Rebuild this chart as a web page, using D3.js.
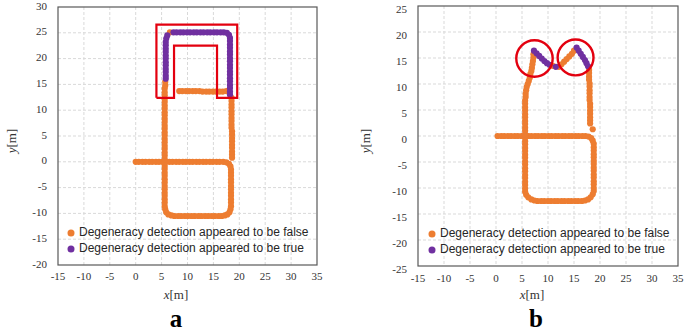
<!DOCTYPE html>
<html>
<head>
<meta charset="utf-8">
<script src="https://cdn.jsdelivr.net/npm/d3@7"></script>
<style>
  body { margin: 0; background: #fff; }
  svg { display: block; }
</style>
</head>
<body>
<svg id="chart" width="685" height="332"></svg>
<script>
// tick values
var xTicks = [-15, -10, -5, 0, 5, 10, 15, 20, 25, 30, 35]
var aYTicks = [-20, -15, -10, -5, 0, 5, 10, 15, 20, 25, 30]
var bYTicks = [-25, -20, -15, -10, -5, 0, 5, 10, 15, 20, 25]
var legendLabels = ["Degeneracy detection appeared to be false", "Degeneracy detection appeared to be true"]

// panel a, trajectory points
var aFalse = [
  [0,0],[0.6,0],[1.3,0],[1.9,0],[2.6,0],[3.2,0],[3.9,0],[4.5,0],[5.2,0],[5.8,0],[6.5,0],[7.1,0],[7.8,0],[8.4,0],
  [9.1,0],[9.7,0],[10.4,0],[11,0],[11.7,0],[12.3,0],[13,0],[13.6,0],[14.3,0],[14.9,0],[15.6,0],[16.2,0],[16.9,0],
  [17.5,-0.1],[18,-0.4],[18.3,-0.9],[18.4,-1.5],
  [18.4,-2.1],[18.4,-2.7],[18.4,-3.4],[18.4,-4],[18.4,-4.7],[18.4,-5.3],[18.4,-6],[18.4,-6.6],[18.4,-7.3],
  [18.4,-7.9],[18.4,-8.6],[18.3,-9.2],[18.1,-9.8],[17.7,-10.2],[17.2,-10.4],
  [16.6,-10.5],[16,-10.5],[15.3,-10.5],[14.7,-10.5],[14,-10.5],[13.4,-10.5],[12.7,-10.5],[12.1,-10.5],[11.4,-10.5],
  [10.8,-10.5],[10.1,-10.5],[9.5,-10.5],[8.8,-10.5],[8.2,-10.5],[7.5,-10.5],[6.9,-10.4],[6.3,-10.2],[5.9,-9.8],[5.7,-9.2],
  [5.6,-8.6],[5.6,-7.9],[5.6,-7.3],[5.6,-6.6],[5.6,-6],[5.6,-5.3],[5.6,-4.7],[5.6,-4],[5.6,-3.4],[5.6,-2.7],
  [5.6,-2.1],[5.6,-1.4],[5.6,-0.8],[5.6,-0.1],[5.6,0.5],[5.6,1.2],[5.6,1.8],[5.6,2.5],[5.6,3.1],[5.6,3.8],
  [5.6,4.4],[5.6,5.1],[5.6,5.7],[5.6,6.4],[5.6,7],[5.6,7.7],[5.6,8.3],[5.6,9],[5.6,9.6],[5.6,10.3],[5.6,10.9],
  [5.6,11.6],[5.6,12.2],[5.6,12.9],[5.6,13.5],[5.6,14.2],[5.7,14.8],[5.7,15.5],
  [6.6,25.1],
  [8.4,13.7],[9,13.7],[9.7,13.7],[10.3,13.7],[11,13.7],[11.6,13.7],[12.3,13.7],[12.9,13.6],[13.6,13.6],[14.2,13.6],
  [14.9,13.6],[15.5,13.6],[16.2,13.6],[16.8,13.6],[17.5,13.7],
  [18.5,12.4],[18.5,11.8],[18.5,11.1],[18.5,10.5],[18.5,9.8],[18.5,9.2],[18.5,8.5],[18.5,7.9],[18.5,7.2],[18.5,6.6],
  [18.6,5.9],[18.6,5.3],[18.6,4.6],[18.6,4],[18.6,3.3],[18.6,2.7],[18.6,2],[18.6,1.4],[18.6,0.8]
]
var aTrue = [
  [5.8,16.1],[5.8,16.7],[5.8,17.4],[5.8,18],[5.8,18.7],[5.8,19.3],[5.8,20],[5.8,20.6],[5.8,21.3],[5.8,21.9],
  [5.8,22.6],[5.8,23.2],[5.9,23.9],[6.1,24.5],
  [7.3,25.1],[7.9,25.1],[8.6,25.1],[9.2,25.1],[9.9,25.1],[10.5,25.1],[11.2,25.1],[11.8,25.1],[12.5,25.1],[13.1,25.1],
  [13.8,25.1],[14.4,25.1],[15.1,25.1],[15.7,25.1],[16.4,25.1],[17,25.1],[17.6,25],[18,24.6],
  [18.2,24],[18.2,23.4],[18.2,22.7],[18.2,22.1],[18.2,21.4],[18.2,20.8],[18.2,20.1],[18.2,19.5],[18.2,18.8],
  [18.2,18.2],[18.2,17.5],[18.2,16.9],[18.2,16.2],[18.2,15.6],[18.2,14.9],[18.2,14.3],[18.2,13.6],[18.2,13]
]
// red outline around the degenerate part (panel a)
var aBox = [[4,12.4],[4,26.6],[19.6,26.6],[19.6,12.4],[15.7,12.4],[15.7,22.5],[7.4,22.5],[7.4,12.4],[4,12.4]]

// panel b
var bFalse = [
  [0.3,0],[1,0],[1.6,0],[2.3,0],[2.9,0],[3.6,0],[4.2,0],[4.9,0],[5.5,0],[6.2,0],[6.8,0],[7.5,0],[8.1,0],[8.8,0],
  [9.4,0],[10.1,0],[10.7,0],[11.4,0],[12,0],[12.7,0],[13.3,0],[14,0],[14.6,0],[15.3,0],[15.9,0],[16.6,0],[17.2,0],
  [17.8,-0.1],[18.3,-0.4],[18.6,-0.9],
  [18.8,-1.5],[18.8,-2.2],[18.8,-2.8],[18.8,-3.5],[18.8,-4.1],[18.8,-4.8],[18.8,-5.4],[18.8,-6.1],[18.8,-6.7],
  [18.8,-7.4],[18.8,-8],[18.8,-8.7],[18.8,-9.3],[18.8,-10],[18.8,-10.6],[18.6,-11.2],[18.2,-11.8],[17.7,-12.2],[17.1,-12.4],
  [16.5,-12.5],[15.8,-12.5],[15.2,-12.5],[14.5,-12.5],[13.9,-12.5],[13.2,-12.5],[12.6,-12.5],[11.9,-12.5],[11.3,-12.5],
  [10.6,-12.5],[10,-12.5],[9.3,-12.5],[8.7,-12.5],[8,-12.5],[7.4,-12.4],[6.8,-12.2],[6.2,-11.8],[5.8,-11.3],[5.6,-10.7],
  [5.6,-10.1],[5.6,-9.4],[5.6,-8.8],[5.6,-8.1],[5.6,-7.5],[5.6,-6.8],[5.6,-6.2],[5.6,-5.5],[5.6,-4.9],[5.6,-4.2],
  [5.6,-3.6],[5.6,-2.9],[5.6,-2.3],[5.6,-1.6],[5.6,-1],[5.6,-0.3],[5.6,0.3],[5.6,1],[5.6,1.6],[5.6,2.3],[5.6,2.9],
  [5.6,3.6],[5.6,4.2],[5.6,4.9],[5.6,5.5],[5.6,6.2],[5.6,6.8],[5.7,7.5],[5.7,8.1],[5.8,8.8],[5.9,9.4],[6.1,10],
  [6.3,10.6],[6.5,11.2],[6.6,11.9],[6.8,12.5],[6.9,13.1],[7,13.8],[7.1,14.4],[7.2,15.1],[7.2,15.7],
  [10.9,13.5],[12.1,13.3],[12.6,13.8],[13.1,14.3],[13.6,14.8],[14.1,15.3],[14.6,15.8],[15,16.4],
  [17.9,12.7],[17.9,12.1],[17.9,11.4],[17.9,10.8],[18,10.1],[18,9.5],[18,8.8],[18,8.2],[18,7.5],[18,6.9],
  [18.1,6.2],[18.1,5.6],[18.1,4.9],[18.1,4.3],[18.1,3.6],[18.1,3],[18.1,2.4],[18.6,1.3]
]
var bTrue = [
  [7.3,16.4],[7.8,15.9],[8.3,15.4],[8.8,14.9],[9.3,14.4],[9.8,14],[10.3,13.7],[11.5,13.3],
  [15.5,17],[15.9,16.4],[16.3,15.8],[16.7,15.2],[17.1,14.6],[17.4,14],[17.7,13.4]
]
// red circles in panel b: cx, cy, r (data units)
var bCircles = [[7.4,14.9,3.5],[15.3,15.1,3.45]]

var orange = "#ED7D31"
var purple = "#7030A0"

function drawPanel(svg, p){
    var g = svg.append("g")
    var x = d3.scaleLinear().domain([-15, 35]).range([p.left, p.right])
    var y = d3.scaleLinear().domain(p.yDomain).range([p.bottom, p.top])

    // dashed grid
    g.selectAll(".gx").data(p.xTicks.slice(1, -1)).enter().append("line")
        .attr("x1", d => x(d)).attr("x2", d => x(d))
        .attr("y1", p.top).attr("y2", p.bottom)
        .attr("stroke", "#d9d9d9").attr("stroke-dasharray", "3,2")
    g.selectAll(".gy").data(p.yTicks.slice(1, -1)).enter().append("line")
        .attr("x1", p.left).attr("x2", p.right)
        .attr("y1", d => y(d)).attr("y2", d => y(d))
        .attr("stroke", "#d9d9d9").attr("stroke-dasharray", "3,2")

    g.append("rect")
        .attr("x", p.left).attr("y", p.top)
        .attr("width", p.right - p.left).attr("height", p.bottom - p.top)
        .attr("fill", "none").attr("stroke", "#595959").attr("stroke-width", 1.2)

    // tick labels
    g.selectAll(".tx").data(p.xTicks).enter().append("text")
        .attr("x", d => x(d)).attr("y", p.bottom + p.xLabOff)
        .attr("text-anchor", "middle").attr("dominant-baseline", "middle")
        .attr("font-family", "'Liberation Serif', serif").attr("font-size", "11px").attr("fill", "#333")
        .text(d => d)
    g.selectAll(".ty").data(p.yTicks).enter().append("text")
        .attr("x", p.left - 11).attr("y", d => y(d) + p.yLabOff)
        .attr("text-anchor", "end").attr("dominant-baseline", "middle")
        .attr("font-family", "'Liberation Serif', serif").attr("font-size", "11px").attr("fill", "#333")
        .text(d => d)

    // axis titles
    var xt = g.append("text").attr("x", p.xTitle[0]).attr("y", p.xTitle[1])
        .attr("text-anchor", "middle").attr("dominant-baseline", "middle")
        .attr("font-family", "'Liberation Serif', serif").attr("font-size", "13px").attr("fill", "#333")
    xt.append("tspan").attr("font-style", "italic").text("x")
    xt.append("tspan").text("[m]")
    var yt = g.append("text")
        .attr("transform", "translate(" + p.yTitle[0] + "," + p.yTitle[1] + ") rotate(-90)")
        .attr("text-anchor", "middle").attr("dominant-baseline", "middle")
        .attr("font-family", "'Liberation Serif', serif").attr("font-size", "13px").attr("fill", "#333")
    yt.append("tspan").attr("font-style", "italic").text("y")
    yt.append("tspan").text("[m]")

    // points
    g.selectAll(".pf").data(p.falsePts).enter().append("circle")
        .attr("cx", d => x(d[0])).attr("cy", d => y(d[1])).attr("r", 3.1)
        .attr("fill", orange)
    g.selectAll(".pt").data(p.truePts).enter().append("circle")
        .attr("cx", d => x(d[0])).attr("cy", d => y(d[1])).attr("r", 3.1)
        .attr("fill", purple)

    if (p.box){
        g.append("path")
            .attr("d", d3.line().x(d => x(d[0])).y(d => y(d[1]))(p.box))
            .attr("fill", "none").attr("stroke", "#E3000F").attr("stroke-width", 2.2)
    }
    if (p.circles){
        g.selectAll(".rc").data(p.circles).enter().append("circle")
            .attr("cx", d => x(d[0])).attr("cy", d => y(d[1]))
            .attr("r", d => x(d[2]) - x(0))
            .attr("fill", "none").attr("stroke", "#E3000F").attr("stroke-width", 2.4)
    }

    // legend
    var lg = g.selectAll(".lg").data(legendLabels).enter().append("g")
        .attr("transform", (d, i) => "translate(" + p.legend[0] + "," + (p.legend[1] + i * 16) + ")")
    lg.append("circle").attr("r", 3.5).attr("fill", (d, i) => i == 0 ? orange : purple)
    lg.append("text").attr("x", 8).attr("dominant-baseline", "middle")
        .attr("font-family", "'Liberation Sans', Arial, sans-serif").attr("font-size", "12px").attr("fill", "#262626")
        .text(d => d)

    g.append("text").attr("x", p.tag[0]).attr("y", p.tag[1])
        .attr("text-anchor", "middle")
        .attr("font-family", "'Liberation Serif', serif").attr("font-weight", "bold").attr("font-size", "25px")
        .text(p.tag[2])
}

window.onload = function(){
    var svg = d3.select("#chart")
    svg.append("rect").attr("width", 685).attr("height", 332).attr("fill", "#fff")

    drawPanel(svg, {
        left: 58, right: 317, top: 7, bottom: 265, yDomain: [-20, 30],
        xTicks: xTicks, yTicks: aYTicks, xLabOff: 12, yLabOff: 0,
        xTitle: [176, 296], yTitle: [13, 141],
        falsePts: aFalse, truePts: aTrue, box: aBox,
        legend: [71, 233], tag: [176, 327, "a"]
    })
    drawPanel(svg, {
        left: 418, right: 678, top: 6, bottom: 266, yDomain: [-25, 25],
        xTicks: xTicks, yTicks: bYTicks, xLabOff: 13, yLabOff: 4,
        xTitle: [532, 296], yTitle: [367, 141],
        falsePts: bFalse, truePts: bTrue, circles: bCircles,
        legend: [432, 234], tag: [536, 327, "b"]
    })
}
</script>
</body>
</html>
